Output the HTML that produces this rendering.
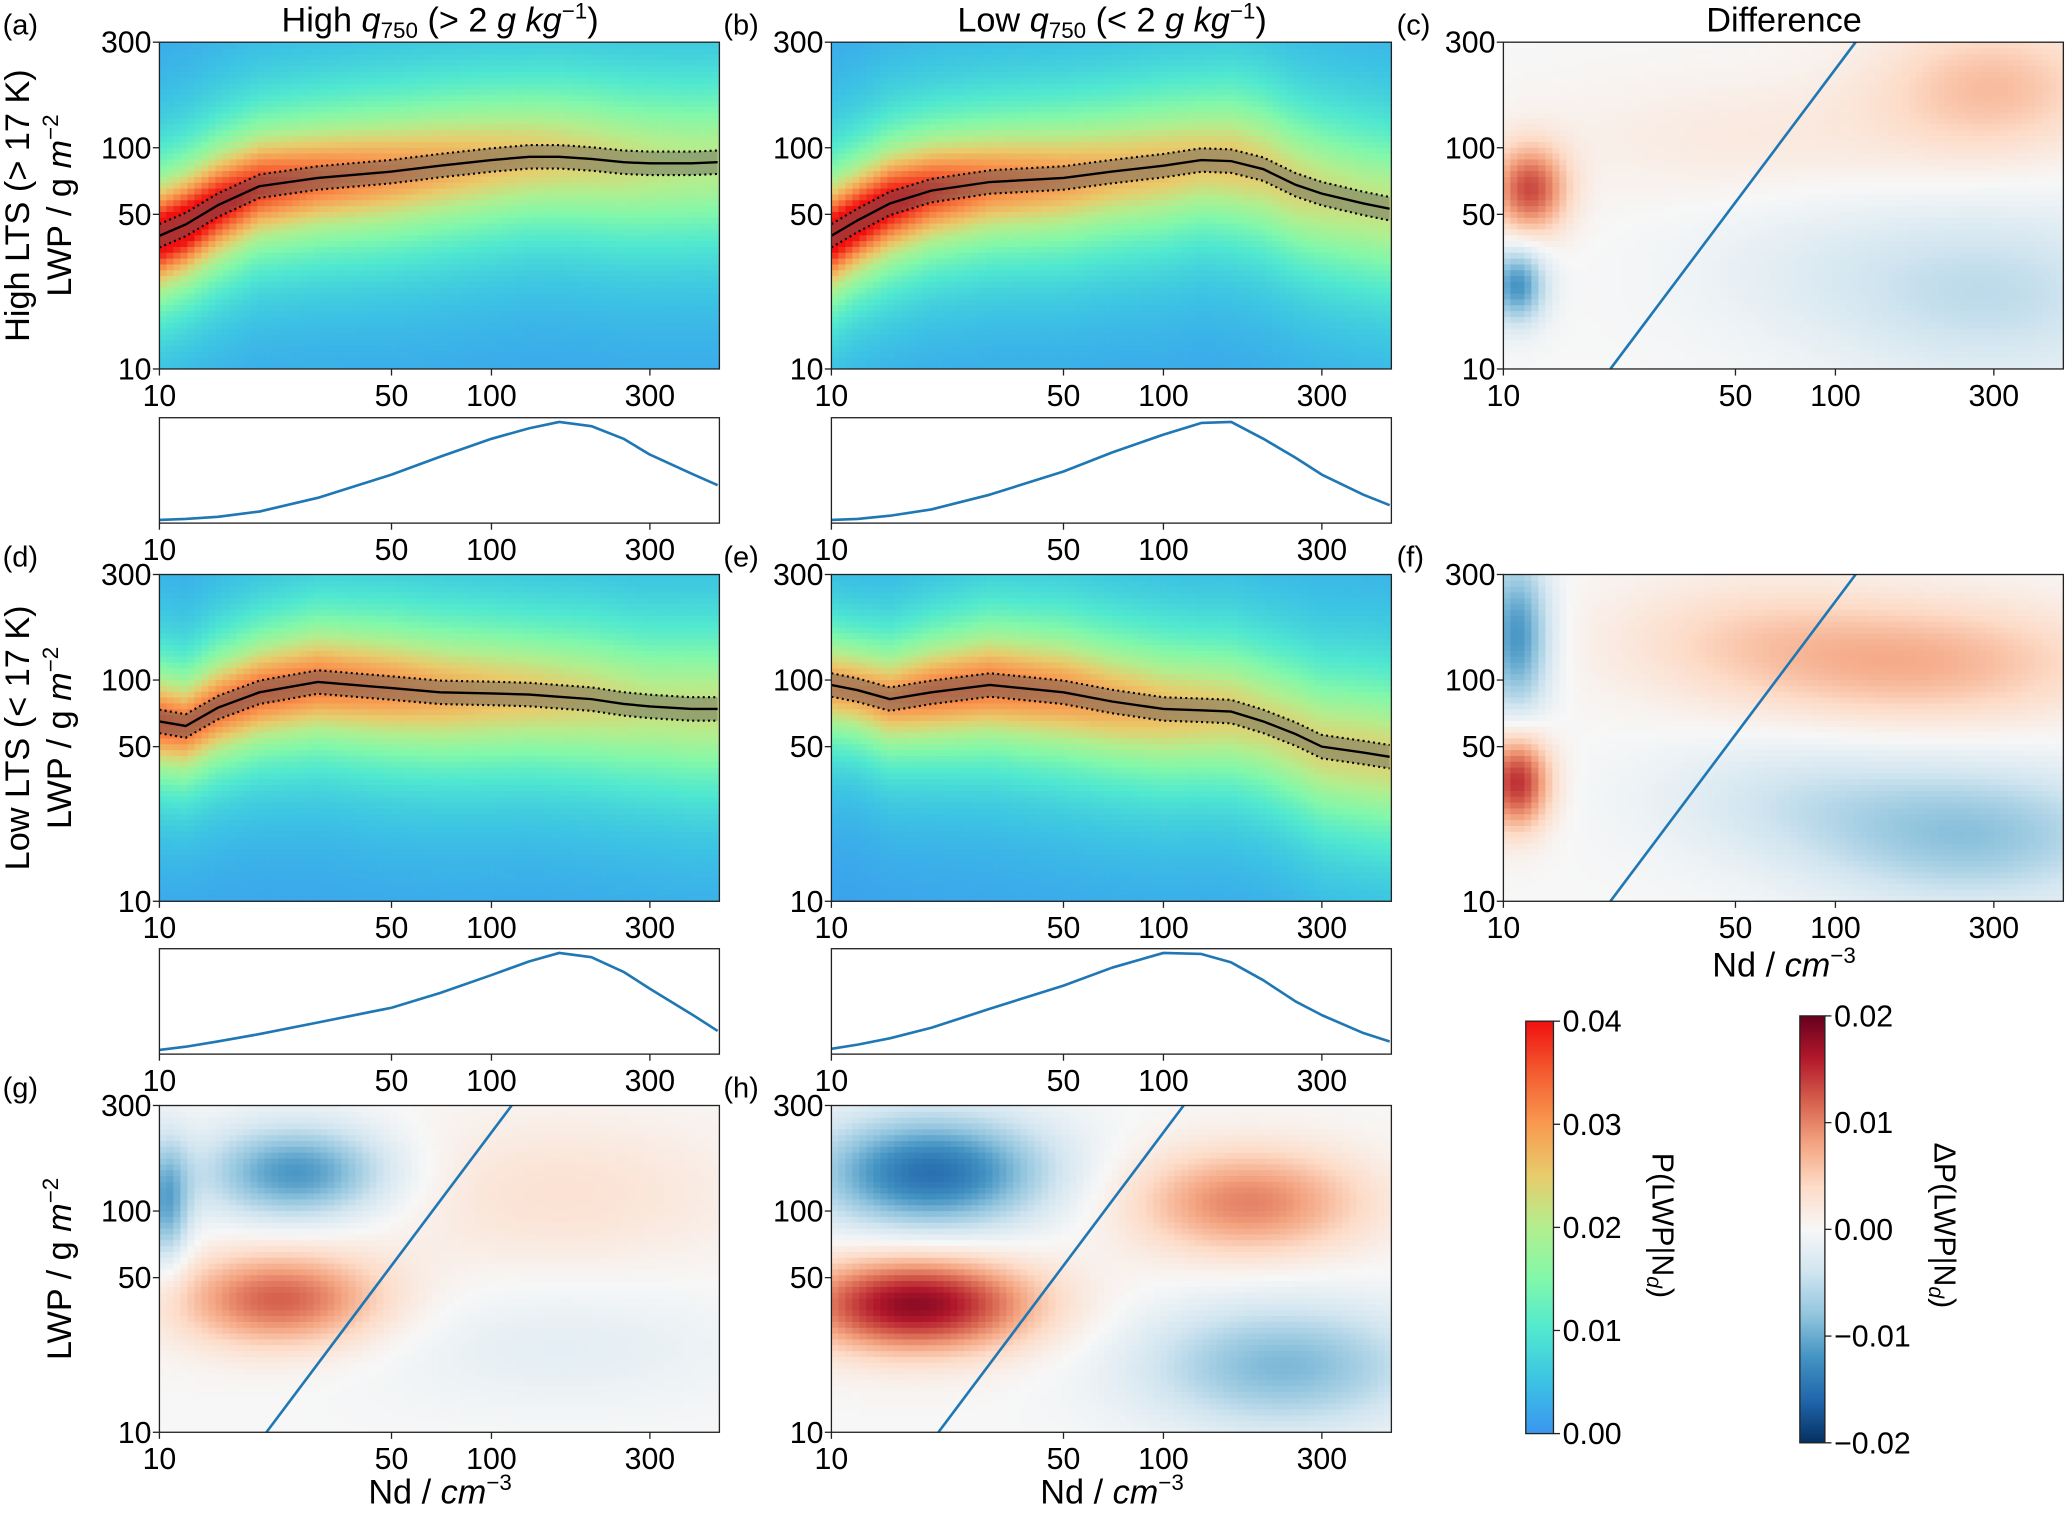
<!DOCTYPE html>
<html><head><meta charset="utf-8"><style>
html,body{margin:0;padding:0;background:#fff;}
svg{display:block;font-family:"Liberation Sans","DejaVu Sans",sans-serif;}
</style></head><body>
<svg id="fig" width="2066" height="1514" viewBox="0 0 1568 1149" xmlns="http://www.w3.org/2000/svg">
<defs>
<linearGradient id="cbP" x1="0" y1="1" x2="0" y2="0">
<stop offset="0" stop-color="#3a96f0"/><stop offset="0.125" stop-color="#3cc2e4"/><stop offset="0.25" stop-color="#50e8d0"/><stop offset="0.375" stop-color="#82f8aa"/><stop offset="0.5" stop-color="#b2ee8e"/><stop offset="0.625" stop-color="#e8cc6c"/><stop offset="0.75" stop-color="#f89a50"/><stop offset="0.875" stop-color="#f45c30"/><stop offset="1" stop-color="#f01010"/>
</linearGradient>
<linearGradient id="cbD" x1="0" y1="1" x2="0" y2="0">
<stop offset="0" stop-color="#053061"/><stop offset="0.1" stop-color="#2166ac"/><stop offset="0.2" stop-color="#4393c3"/><stop offset="0.3" stop-color="#92c5de"/><stop offset="0.4" stop-color="#d1e5f0"/><stop offset="0.5" stop-color="#f7f7f7"/><stop offset="0.6" stop-color="#fddbc7"/><stop offset="0.7" stop-color="#f4a582"/><stop offset="0.8" stop-color="#d6604d"/><stop offset="0.9" stop-color="#b2182b"/><stop offset="1" stop-color="#67001f"/>
</linearGradient>
</defs>
<g id="layer"></g>
</svg>
<script>
// ---- data ----
const ND = [10,12,15,20,30,50,70,100,130,160,200,250,300,400,480];
const medA = [40,45,55,67,73,78,83,88,91,91,89,86,85,85,86];
const medB = [40,47,56,64,70,73,78,83,88,87,80,68,62,56,53];
const medD = [65,62,75,88,98,92,88,87,86,84,82,78,76,74,74];
const medE = [95,90,82,88,95,88,80,74,73,72,65,57,50,47,45];
const peakA = [0.045,0.045,0.042,0.038,0.034,0.031,0.029,0.027,0.026,0.025,0.024,0.023,0.022,0.021,0.021];
const peakB = [0.045,0.044,0.042,0.038,0.033,0.030,0.028,0.027,0.026,0.026,0.025,0.024,0.023,0.022,0.022];
const peakD = [0.035,0.034,0.034,0.034,0.033,0.031,0.029,0.027,0.026,0.025,0.024,0.023,0.022,0.022,0.022];
const peakE = [0.030,0.030,0.031,0.033,0.033,0.031,0.029,0.027,0.026,0.025,0.024,0.024,0.024,0.024,0.024];
const sigma = [0.22,0.22,0.23,0.24,0.26,0.28,0.29,0.30,0.30,0.31,0.32,0.33,0.34,0.35,0.35];
const histA = [0.03,0.04,0.06,0.11,0.24,0.46,0.63,0.80,0.90,0.96,0.92,0.80,0.65,0.47,0.36];
const histB = [0.03,0.04,0.07,0.13,0.27,0.49,0.67,0.84,0.95,0.96,0.80,0.62,0.46,0.27,0.17];
const histD = [0.04,0.07,0.12,0.19,0.30,0.44,0.58,0.75,0.88,0.96,0.92,0.78,0.62,0.38,0.22];
const histE = [0.05,0.09,0.15,0.25,0.43,0.65,0.82,0.96,0.95,0.87,0.70,0.50,0.37,0.20,0.12];
// difference blobs: [Nd, LWP, amplitude, sdNd(decades), sdLWP(decades)]
const blobsC = [[300,190,0.006,0.25,0.22],[60,110,0.002,0.45,0.2],[300,22,-0.005,0.35,0.28],[80,30,-0.0015,0.3,0.25],[12,65,0.013,0.08,0.14],[11,24,-0.012,0.06,0.12]];
const blobsF = [[180,120,0.007,0.4,0.2],[50,160,0.003,0.3,0.2],[260,20,-0.008,0.35,0.22],[70,30,-0.003,0.3,0.2],[11,160,-0.012,0.07,0.25],[11,35,0.015,0.07,0.15]];
const blobsG = [[26,150,-0.012,0.2,0.15],[23,40,0.012,0.22,0.15],[160,120,0.003,0.4,0.25],[160,25,-0.002,0.4,0.2],[10.5,110,-0.01,0.05,0.2]];
const blobsH = [[20,150,-0.015,0.25,0.18],[18,38,0.018,0.25,0.15],[180,110,0.01,0.25,0.17],[230,20,-0.009,0.3,0.2]];
const xTicks = [10,50,100,300];
const yTicks = [10,50,100,300];
const cbPTicks = [0,0.01,0.02,0.03,0.04];
const cbPLabels = ["0.00","0.01","0.02","0.03","0.04"];
const cbDTicks = [-0.02,-0.01,0,0.01,0.02];
const cbDLabels = ["\u22120.02","\u22120.01","0.00","0.01","0.02"];

// ---- helpers ----
const NS="http://www.w3.org/2000/svg";
const layer=document.getElementById('layer');
const W=425,H=248,DEC_X=252,DEC_Y=167.9,NDMAX=10*Math.pow(10,W/DEC_X);
const FS=23;
function mk(tag,attrs,parent){const e=document.createElementNS(NS,tag);for(const k in attrs)e.setAttribute(k,attrs[k]);(parent||layer).appendChild(e);return e;}
function xs(nd,x0){return x0+DEC_X*Math.log10(nd/10);}
function ys(l,y0){return y0+H-DEC_Y*Math.log10(l/10);}
function interp(arr,nd){const l=Math.log10(nd);
  for(let i=0;i<ND.length-1;i++){const a=Math.log10(ND[i]),b=Math.log10(ND[i+1]);if(l<=b||i==ND.length-2){const t=Math.max(0,Math.min(1,(l-a)/(b-a)));return [i,t];}}}
function lerpArr(arr,nd,log){const [i,t]=interp(arr,nd);if(log)return Math.pow(10,Math.log10(arr[i])*(1-t)+Math.log10(arr[i+1])*t);return arr[i]*(1-t)+arr[i+1]*t;}
function hex(h){return [parseInt(h.substr(1,2),16),parseInt(h.substr(3,2),16),parseInt(h.substr(5,2),16)];}
function cmap(stops,v){v=Math.max(0,Math.min(1,v));const n=stops.length-1;const p=v*n;const i=Math.min(n-1,Math.floor(p));const t=p-i;const a=hex(stops[i]),b=hex(stops[i+1]);return 'rgb('+a.map((c,k)=>Math.round(c+(b[k]-c)*t)).join(',')+')';}
const PST=["#3a96f0","#3cc2e4","#50e8d0","#82f8aa","#b2ee8e","#e8cc6c","#f89a50","#f45c30","#f01010"];
const DST=["#053061","#2166ac","#4393c3","#92c5de","#d1e5f0","#f7f7f7","#fddbc7","#f4a582","#d6604d","#b2182b","#67001f"];
const NC=80,NR=56;

function text(str,x,y,size,anchor,parent,name){const t=mk('text',{x:x,y:y,'font-size':size,'text-anchor':anchor||'middle',fill:'#000'},parent);t.textContent=str;
  
  return t;}

function axes(x0,y0,g,showY,w,h,isInset){
  const fr=mk('rect',{x:x0,y:y0,width:w||W,height:h||H,fill:'none',stroke:'#222','stroke-width':1},g);
  
  
  const bottom=y0+(h||H);
  xTicks.forEach(v=>{const x=xs(v,x0);mk('line',{x1:x,x2:x,y1:bottom,y2:bottom+5,stroke:'#222'},g);text(String(v),x,bottom+28,FS,'middle',g,'x-tick-label');});
  if(showY){yTicks.forEach(v=>{const y=ys(v,y0);mk('line',{x1:x0-5,x2:x0,y1:y,y2:y,stroke:'#222'},g);text(String(v),x0-6,y+8,FS,'end',g,'y-tick-label');});}
}

function heatP(x0,y0,med,peak,name){
  const g=mk('g',{});
  
  
  const cw=W/NC,ch=H/NR;
  for(let c=0;c<NC;c++){
    const nd=10*Math.pow(10,(c+0.5)/NC*Math.log10(NDMAX/10));
    const m=Math.log10(lerpArr(med,nd,true)),pk=lerpArr(peak,nd),s=lerpArr(sigma,nd);
    for(let r=0;r<NR;r++){
      const l=1+(r+0.5)/NR*Math.log10(30);
      const d=(l-m)/s;const v=pk/(1+d*d);
      if(v<0.0012)continue;
      const cell=mk('rect',{x:(x0+c*cw).toFixed(2),y:(y0+H-(r+1)*ch).toFixed(2),width:(cw+0.4).toFixed(2),height:(ch+0.4).toFixed(2),fill:cmap(PST,v/0.04)},g);
      
      
    }
  }
  const up=[],lo=[],mid=[];
  ND.forEach((n,i)=>{const x=xs(n,x0);mid.push(x+','+ys(med[i],y0));up.push(x+','+ys(med[i]*1.13,y0));lo.push(x+','+ys(med[i]/1.13,y0));});
  const band=mk('polygon',{points:up.concat(lo.slice().reverse()).join(' '),fill:'rgba(90,90,90,0.45)'},g);
  
  
  const pu=mk('polyline',{points:up.join(' '),fill:'none',stroke:'#000','stroke-width':1.6,'stroke-dasharray':'1.5 2.5'},g);
  
  
  const pl=mk('polyline',{points:lo.join(' '),fill:'none',stroke:'#000','stroke-width':1.6,'stroke-dasharray':'1.5 2.5'},g);
  
  
  const pm=mk('polyline',{points:mid.join(' '),fill:'none',stroke:'#000','stroke-width':1.8},g);
  
  
  axes(x0,y0,g,true);
}

function heatD(x0,y0,blobs,name){
  const g=mk('g',{});
  
  
  const cw=W/NC,ch=H/NR;
  for(let c=0;c<NC;c++){
    const lx=1+(c+0.5)/NC*Math.log10(NDMAX/10);
    for(let r=0;r<NR;r++){
      const l=1+(r+0.5)/NR*Math.log10(30);
      let v=0;blobs.forEach(b=>{const dx=(lx-Math.log10(b[0]))/b[3],dy=(l-Math.log10(b[1]))/b[4];v+=b[2]*Math.exp(-0.5*(dx*dx+dy*dy));});
      const cell=mk('rect',{x:(x0+c*cw).toFixed(2),y:(y0+H-(r+1)*ch).toFixed(2),width:(cw+0.4).toFixed(2),height:(ch+0.4).toFixed(2),fill:cmap(DST,(v+0.02)/0.04)},g);
      
      
    }
  }
  const k=10/(21*21);
  let n1=Math.sqrt(10/k),n2=Math.sqrt(300/k);
  const ln=mk('line',{x1:xs(n1,x0),y1:ys(10,y0),x2:xs(n2,x0),y2:ys(300,y0),stroke:'#1f77b4','stroke-width':2},g);
  
  
  axes(x0,y0,g,true);
}

function inset(x0,y0,hist,name){
  const g=mk('g',{});
  
  
  const h=80;
  const pts=ND.map((n,i)=>Math.min(x0+W,xs(n,x0))+','+(y0+h-hist[i]*h));
  const pl=mk('polyline',{points:pts.join(' '),fill:'none',stroke:'#1f77b4','stroke-width':2,'stroke-linejoin':'round'},g);
  
  
  axes(x0,y0,g,false,W,h,true);
}

heatP(121,32,medA,peakA,'panel-a-heatmap');
heatP(631,32,medB,peakB,'panel-b-heatmap');
heatD(1141,32,blobsC,'panel-c-difference');
heatP(121,436,medD,peakD,'panel-d-heatmap');
heatP(631,436,medE,peakE,'panel-e-heatmap');
heatD(1141,436,blobsF,'panel-f-difference');
heatD(121,839,blobsG,'panel-g-difference');
heatD(631,839,blobsH,'panel-h-difference');
inset(121,317,histA,'panel-a-inset');
inset(631,317,histB,'panel-b-inset');
inset(121,720,histD,'panel-d-inset');
inset(631,720,histE,'panel-e-inset');

function cbar(x,y0,h,w,grad,ticks,labels,vmin,vmax,name){
  const g=mk('g',{});
  
  
  const r=mk('rect',{x:x,y:y0,width:w,height:h,fill:'url(#'+grad+')',stroke:'#222','stroke-width':1},g);
  
  
  ticks.forEach((v,i)=>{const y=y0+h-(v-vmin)/(vmax-vmin)*h;mk('line',{x1:x+w,x2:x+w+5,y1:y,y2:y,stroke:'#222'},g);text(labels[i],x+w+7,y+8,FS,'start',g,'colorbar-tick-label');});
}
cbar(1158,775,313,21,'cbP',cbPTicks,cbPLabels,0,0.04,'colorbar-p');
cbar(1366,771,324,19,'cbD',cbDTicks,cbDLabels,-0.02,0.02,'colorbar-dp');
</script>
<script>
(function(){
const NS="http://www.w3.org/2000/svg";const svg=document.getElementById('fig');
function T(html,x,y,size,name,rot,anchor){const t=document.createElementNS(NS,'text');t.setAttribute('x',x);t.setAttribute('y',y);t.setAttribute('font-size',size);t.setAttribute('text-anchor',anchor||'middle');
 if(rot)t.setAttribute('transform','rotate('+rot+' '+x+' '+y+')');t.innerHTML=html;
 
 
 svg.appendChild(t);}
T('High <tspan font-style="italic">q</tspan><tspan font-size="17" dy="5">750</tspan><tspan dy="-5"> (&gt; 2 </tspan><tspan font-style="italic">g kg</tspan><tspan font-size="17" dy="-10">−1</tspan><tspan dy="10">)</tspan>',334,24,26,'title-high-q');
T('Low <tspan font-style="italic">q</tspan><tspan font-size="17" dy="5">750</tspan><tspan dy="-5"> (&lt; 2 </tspan><tspan font-style="italic">g kg</tspan><tspan font-size="17" dy="-10">−1</tspan><tspan dy="10">)</tspan>',844,24,26,'title-low-q');
T('Difference',1354,24,26,'title-difference');
[['(a)',2,26],['(b)',549,26],['(c)',1060,26],['(d)',2,430],['(e)',549,430],['(f)',1060,430],['(g)',2,833],['(h)',549,833]].forEach(p=>T(p[0],p[1],p[2],22,'panel-label-'+p[0][1],0,'start'));
T('High LTS (&gt; 17 K)',22,156,26,'row1-title',-90);
T('LWP / g <tspan font-style="italic">m</tspan><tspan font-size="17" dy="-10">−2</tspan>',54,156,26,'y-axis-title',-90);
T('Low LTS (&lt; 17 K)',22,560,26,'row2-title',-90);
T('LWP / g <tspan font-style="italic">m</tspan><tspan font-size="17" dy="-10">−2</tspan>',54,560,26,'y-axis-title',-90);
T('LWP / g <tspan font-style="italic">m</tspan><tspan font-size="17" dy="-10">−2</tspan>',54,963,26,'y-axis-title',-90);
const nd='Nd / <tspan font-style="italic">cm</tspan><tspan font-size="17" dy="-10">−3</tspan>';
T(nd,334,1141,26,'x-axis-title');T(nd,844,1141,26,'x-axis-title');T(nd,1354,741,26,'x-axis-title');
T('P(LWP|N<tspan font-size="16" font-style="italic" dy="4">d</tspan><tspan dy="-4">)</tspan>',1254,930,23,'colorbar-p-title',90);
T('ΔP(LWP|N<tspan font-size="16" font-style="italic" dy="4">d</tspan><tspan dy="-4">)</tspan>',1468,930,23,'colorbar-dp-title',90);
})();
</script>
</body></html>
